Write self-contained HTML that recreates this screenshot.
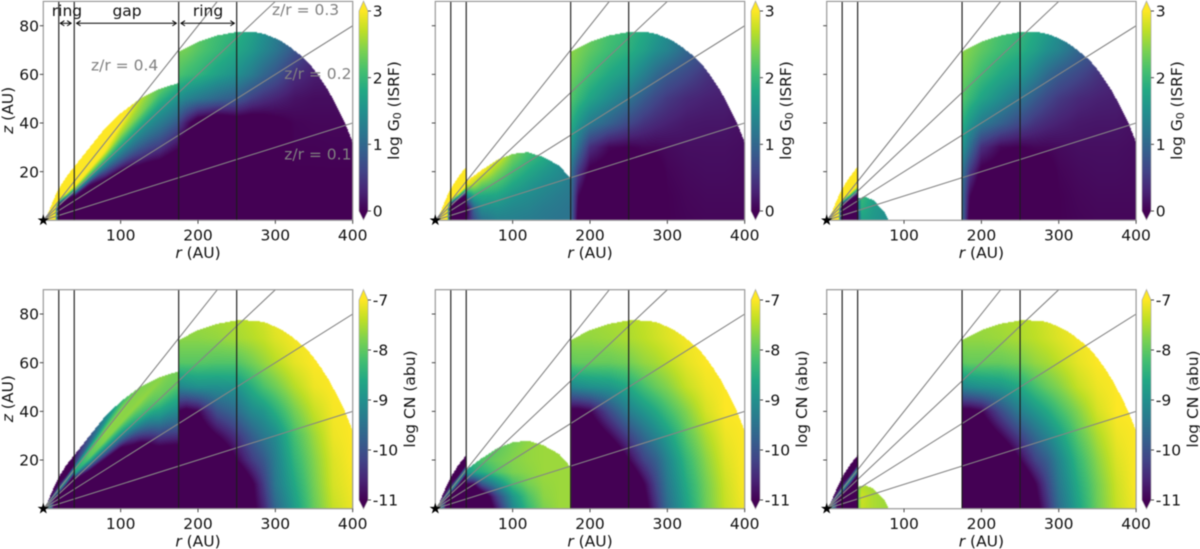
<!DOCTYPE html>
<html lang="en">
<head>
<meta charset="utf-8">
<title>Disk G0 and CN maps</title>
<style>
html,body{margin:0;padding:0;background:#fff;width:1200px;height:549px;overflow:hidden}
#figure{position:relative;width:1200px;height:549px;background:#fff;filter:blur(0.4px)}
canvas{position:absolute;display:block}
svg{position:absolute;left:0;top:0}
text{font-family:"DejaVu Sans","Liberation Sans",sans-serif;font-size:15.5px;fill:#111}
</style>
</head>
<body>
<div id="figure">
<svg id="overlay" width="1200" height="549" viewBox="0 0 1200 549">
<defs>
<linearGradient id="viridis" x1="0" y1="1" x2="0" y2="0">
<stop offset="0" stop-color="#440154"/><stop offset="0.1" stop-color="#482475"/><stop offset="0.2" stop-color="#414487"/><stop offset="0.3" stop-color="#355f8d"/><stop offset="0.4" stop-color="#2a788e"/><stop offset="0.5" stop-color="#21908d"/><stop offset="0.6" stop-color="#22a884"/><stop offset="0.7" stop-color="#44bf70"/><stop offset="0.8" stop-color="#7ad151"/><stop offset="0.9" stop-color="#bddf26"/><stop offset="1" stop-color="#fde725"/>
</linearGradient>
</defs>
</svg>
</div>
<script>
// ---------- axis data ----------
const xTicks = [100, 200, 300, 400];
const yTicks = [20, 40, 60, 80];
const g0Ticks = [0, 1, 2, 3];
const cnTicks = [-11, -10, -9, -8, -7];
const ringRadii = [20, 40, 175, 250];
const zrSlopes = [0.1, 0.2, 0.3, 0.4];
const annotationLabels = ["z/r = 0.4", "z/r = 0.3", "z/r = 0.2", "z/r = 0.1"];
const annotationR = [61.7, 295.6, 311.5, 311.5];
const annotationZ = [61.6, 84.4, 58.1, 25];
const zoneLabels = ["ring", "gap", "ring"];
const zoneLabelR = [30.6, 108.3, 213];
const zoneArrowFrom = [22, 43, 178];
const zoneArrowTo = [36, 172, 247];

// ---------- disk surface heights (AU) ----------
const ringTopR = [0, 5, 10, 15, 20, 30, 40];
const ringTopZ = [0, 2, 6, 9.7, 13, 18, 22];
const outerTopR = [175, 200, 225, 250, 275, 287, 300, 310, 320, 330, 340, 350, 360, 370, 380, 390, 395, 400];
const outerTopZ = [69.3, 73.4, 76, 77.4, 77.3, 76.5, 74.8, 73.2, 71, 68.5, 65.8, 62, 57.5, 52.5, 46.5, 40, 36, 32];
const gapTopRFull = [40, 50, 60, 80, 100, 125, 150, 175];
const gapTopZFull = [22, 26, 30, 38, 44, 50, 54, 56.5];
const gapTopRMid = [40, 60, 80, 100, 120, 140, 160, 170, 175];
const gapTopZMid = [16, 20.7, 24.8, 27.3, 28, 26, 22.5, 19, 17];
const gapTopRSmall = [40, 50, 60, 70, 75, 80];
const gapTopZSmall = [9, 9.6, 8.4, 5, 3.5, 0];

// ---------- sampled grids ----------
const ringR = [0, 10, 15, 20, 30, 40];
const ringSlopeG0 = [0, 0.25, 0.3, 0.35, 0.4, 0.45, 0.7];
const ringG0 = [
 [4,4,3.5,-1,-1,-1],
 [4,4,3.5,-1,-1,-0.5],
 [4,4,3.5,-0.5,0.8,1.5],
 [4,4,3.5,1,2.6,3],
 [4,4,3.5,3,3.5,3.5],
 [4,4,4,4,4,4],
 [4,4,4,4,4,4]
];
const ringSlopeCN = [0, 0.1, 0.2, 0.3, 0.35, 0.4, 0.45, 0.7];
const ringCN = [
 [-9,-9.5,-12,-12,-12,-12],
 [-9,-9.5,-11.5,-12,-12,-12],
 [-9,-10,-11,-12,-12,-12],
 [-9.5,-10.5,-11,-11.5,-12,-12],
 [-9.5,-10,-10,-9.5,-10,-11],
 [-9,-9,-8.8,-8.5,-8.5,-8.6],
 [-10.5,-10.5,-10.5,-10.5,-11,-11],
 [-12,-12,-12,-12,-12,-12]
];

const outerR = [175,185,200,225,250,270,285,300,325,350,375,400];
const outerZ = [0,10,20,30,40,50,60,70,80];
const outerG0Full = [
 [0,0,0,0,0,0,0,0,0,0,0,0],
 [0,0,0,0,0,0,0,0,0,0,0,0],
 [-0.1,-0.1,-0.1,-0.2,-0.2,-0.2,-0.2,-0.1,0,0,0,0],
 [-0.3,-0.3,-0.3,-0.3,-0.3,-0.2,-0.2,-0.1,0.02,0.02,0.03,0.03],
 [0.6,0.2,-0.3,-0.5,-0.3,-0.3,-0.2,-0.1,0.03,0.05,0.05,0.05],
 [1.5,1.35,1.2,1.0,0.85,0.55,0.4,0.3,0.15,0.1,0.1,0.1],
 [2.15,2.05,1.95,1.7,1.5,1.25,1.0,0.8,0.4,0.25,0.2,0.2],
 [2.4,2.35,2.2,2.0,1.8,1.6,1.4,1.2,0.8,0.4,0.3,0.3],
 [2.5,2.45,2.3,2.1,1.95,1.75,1.55,1.35,0.9,0.5,0.4,0.3]
];
const outerG0Cut = [
 [1.1,-0.2,-0.5,-0.5,-0.5,-0.5,-0.3,0,0.03,0.05,0.05,0.05],
 [1.1,0.05,-0.4,-0.4,-0.4,-0.4,-0.2,0,0.05,0.07,0.07,0.07],
 [1.2,0.5,-0.1,-0.2,-0.3,-0.2,-0.1,0.03,0.08,0.1,0.1,0.08],
 [1.6,1.1,0.4,0.05,0,0.05,0.05,0.08,0.12,0.12,0.12,0.1],
 [1.9,1.6,1.25,0.95,0.65,0.45,0.35,0.28,0.2,0.18,0.18,0.12],
 [2.2,2,1.75,1.45,1.15,0.85,0.65,0.5,0.35,0.28,0.25,0.15],
 [2.35,2.25,2.05,1.8,1.6,1.3,1.05,0.85,0.65,0.45,0.3,0.2],
 [2.5,2.4,2.25,2.05,1.9,1.7,1.5,1.35,1,0.7,0.4,0.3],
 [2.6,2.5,2.35,2.15,2,1.85,1.7,1.5,1.15,0.8,0.5,0.3]
];
const outerCNFull = [
 [-12,-12,-12,-12,-12,-11.2,-10.6,-9.7,-8.8,-7.95,-7.35,-7.1],
 [-12,-12,-12,-12,-12,-11.1,-10.3,-9.4,-8.6,-7.85,-7.25,-7.05],
 [-12,-12,-12,-12,-11,-10.3,-9.9,-9.3,-8.4,-7.75,-7.2,-7],
 [-12,-12,-11.6,-11,-10.4,-9.8,-9.4,-9.1,-8.2,-7.6,-7.1,-7],
 [-11,-11.2,-11,-10,-9.6,-9.1,-8.9,-8.5,-7.85,-7.35,-7.05,-7],
 [-9.2,-9.1,-9,-9,-8.95,-8.5,-8.15,-7.9,-7.45,-7.1,-7,-7],
 [-8.05,-8.05,-8.05,-8.1,-8.1,-7.85,-7.65,-7.45,-7.15,-7,-7,-7],
 [-7.7,-7.7,-7.7,-7.65,-7.55,-7.45,-7.35,-7.2,-7.05,-7,-7,-7],
 [-7.55,-7.55,-7.55,-7.5,-7.45,-7.35,-7.25,-7.1,-7.05,-7,-7,-7]
];
const outerCNCut = [
 [-12,-12,-12,-12,-12,-11.3,-10.5,-9.6,-8.7,-7.9,-7.35,-7.05],
 [-12,-12,-12,-12,-12,-11,-10.2,-9.4,-8.55,-7.85,-7.3,-7],
 [-12,-12,-12,-12,-11,-10.2,-9.8,-9.2,-8.35,-7.7,-7.2,-7],
 [-12,-12,-11.7,-11,-10.2,-9.6,-9.2,-8.8,-8.05,-7.5,-7.1,-7],
 [-11.2,-11.2,-11,-10.1,-9.3,-8.9,-8.6,-8.25,-7.75,-7.25,-7,-7],
 [-9.2,-9.1,-9,-8.9,-8.6,-8.2,-7.95,-7.75,-7.35,-7.1,-7,-7],
 [-8,-7.95,-7.95,-7.95,-7.85,-7.65,-7.55,-7.4,-7.15,-7,-7,-7],
 [-7.65,-7.65,-7.65,-7.6,-7.5,-7.4,-7.3,-7.2,-7.05,-7,-7,-7],
 [-7.55,-7.55,-7.55,-7.5,-7.45,-7.35,-7.25,-7.15,-7.05,-7,-7,-7]
];

const gapFullR = [40,60,80,100,125,150,175];
const gapG0Slope = [0,0.15,0.2,0.25,0.3,0.35,0.4,0.7];
const gapG0Full = [
 [-1,-1,-1,-1,-1,-1,-1],
 [-1,-1,-1,-0.5,-0.5,-0.2,-0.2],
 [-0.5,-0.5,-0.2,-0.1,0.3,0.5,0.4],
 [0.2,0.2,0.7,0.9,1.0,1.1,1.1],
 [2.0,1.9,1.8,1.7,1.6,1.6,1.7],
 [3.2,3,2.9,2.5,2.4,2.2,2.3],
 [3.5,3.5,3.3,3.1,2.7,2.5,2.5],
 [3.5,3.5,3.5,3.2,2.9,2.6,2.5]
];
const gapCNSlope = [0,0.15,0.2,0.25,0.3,0.35,0.4,0.45,0.7];
const gapCNFull = [
 [-12,-12,-12,-12,-12,-12,-12],
 [-12,-12,-12,-12,-12,-11.5,-11],
 [-12,-12,-12,-12,-11.5,-10.3,-9.7],
 [-12,-11.5,-11.2,-11,-10,-9,-8.7],
 [-11,-9.5,-9.2,-9,-8.4,-8,-7.9],
 [-8.8,-8,-7.75,-7.7,-7.65,-7.7,-7.8],
 [-8.5,-8,-7.7,-7.7,-7.8,-7.9,-8],
 [-10.2,-9.6,-9,-8.6,-8.5,-8.5,-8.5],
 [-12,-12,-11,-9.5,-9,-9,-9]
];

const gapMidR = [40,50,60,80,100,120,140,160,175];
const gapMidZ = [0,5,10,15,20,25,30];
const gapG0Mid = [
 [0.1,0.7,1.1,1.3,1.3,1.25,1.2,1.15,1.15],
 [-0.2,1,1.45,1.5,1.4,1.35,1.25,1.2,1.15],
 [1.2,1.8,1.8,1.75,1.55,1.45,1.35,1.25,1.2],
 [3,2.7,2.35,2.1,1.8,1.6,1.45,1.35,1.25],
 [3.2,3.2,3,2.45,2.05,1.8,1.6,1.45,1.3],
 [3.2,3.2,3.1,2.85,2.3,2,1.8,1.5,1.3],
 [3.2,3.2,3.2,3,2.5,2.15,1.9,1.5,1.3]
];
const gapCNMid = [
 [-12,-12,-12,-10.7,-9.2,-8.35,-7.8,-7.6,-7.6],
 [-12,-12,-11.8,-10.2,-8.9,-8.15,-7.7,-7.6,-7.6],
 [-11,-11,-10,-9.1,-8.25,-7.85,-7.65,-7.6,-7.6],
 [-9,-8.6,-8.5,-8.1,-7.8,-7.7,-7.6,-7.6,-7.6],
 [-8.6,-8.3,-8.1,-7.9,-7.75,-7.65,-7.6,-7.6,-7.6],
 [-8.8,-8.6,-8.3,-8,-7.8,-7.65,-7.6,-7.6,-7.6],
 [-9,-9,-8.6,-8.2,-7.9,-7.7,-7.6,-7.6,-7.6]
];

const gapSmallR = [40,45,60,80];
const gapSmallZ = [0,5,10];
const gapG0Small = [
 [0.3,1.7,1.6,1.45],
 [0.8,1.9,1.65,1.5],
 [1.2,2,1.75,1.6]
];
const gapCNSmall = [
 [-8,-7.35,-7.5,-7.6],
 [-8,-7.3,-7.5,-7.6],
 [-8.1,-7.5,-7.6,-7.7]
];

// ---------- colormap ----------
const viridisStops = ["#440154","#482475","#414487","#355f8d","#2a788e","#21908d","#22a884","#44bf70","#7ad151","#bddf26","#fde725"];

// ---------- panel layout ----------
const plotLeft = [43.3, 435.3, 826.7];
const plotTop = [1.4, 289.7];
const plotBottom = [220.3, 508.7];
const plotWidth = 309.4;
const barLeft = [359, 751, 1142];
const barWidth = 9;
const barTopTick = [11, 300];
const barBottomTick = [211, 500];
const barTip = [[1, 220], [289.5, 509]];

const panels = [
 {col:0,row:0,name:'g0-full-gap',ring:[ringR,ringSlopeG0,ringG0],gap:[gapFullR,gapG0Slope,gapG0Full,true],gapTop:[gapTopRFull,gapTopZFull],outer:outerG0Full},
 {col:1,row:0,name:'g0-mid-gap',ring:[ringR,ringSlopeG0,ringG0],gap:[gapMidR,gapMidZ,gapG0Mid,false],gapTop:[gapTopRMid,gapTopZMid],outer:outerG0Cut},
 {col:2,row:0,name:'g0-small-gap',ring:[ringR,ringSlopeG0,ringG0],gap:[gapSmallR,gapSmallZ,gapG0Small,false],gapTop:[gapTopRSmall,gapTopZSmall],outer:outerG0Cut},
 {col:0,row:1,name:'cn-full-gap',ring:[ringR,ringSlopeCN,ringCN],gap:[gapFullR,gapCNSlope,gapCNFull,true],gapTop:[gapTopRFull,gapTopZFull],outer:outerCNFull},
 {col:1,row:1,name:'cn-mid-gap',ring:[ringR,ringSlopeCN,ringCN],gap:[gapMidR,gapMidZ,gapCNMid,false],gapTop:[gapTopRMid,gapTopZMid],outer:outerCNCut},
 {col:2,row:1,name:'cn-small-gap',ring:[ringR,ringSlopeCN,ringCN],gap:[gapSmallR,gapSmallZ,gapCNSmall,false],gapTop:[gapTopRSmall,gapTopZSmall],outer:outerCNCut}
];

// ---------- helpers ----------
const SVGNS = 'http://www.w3.org/2000/svg';
const overlay = document.getElementById('overlay');
const figure = document.getElementById('figure');

function node(tag, attrs, name, parent) {
  const e = document.createElementNS(SVGNS, tag);
  for (const k in attrs) e.setAttribute(k, attrs[k]);
  
  
  (parent || overlay).appendChild(e);
  return e;
}
function rgbStops() {
  return viridisStops.map(h => [parseInt(h.slice(1,3),16), parseInt(h.slice(3,5),16), parseInt(h.slice(5,7),16)]);
}
const cmap = rgbStops();
function colour(t) {
  t = Math.max(0, Math.min(1, t)) * (cmap.length - 1);
  const i = Math.min(cmap.length - 2, Math.floor(t)), f = t - i;
  return [0,1,2].map(c => cmap[i][c] + (cmap[i+1][c] - cmap[i][c]) * f);
}
function lerp1(xs, ys, x) {
  if (x < xs[0] || x > xs[xs.length-1]) return -1;
  for (let i = 0; i < xs.length - 1; i++) {
    if (x <= xs[i+1]) return ys[i] + (ys[i+1]-ys[i]) * (x-xs[i]) / (xs[i+1]-xs[i]);
  }
  return ys[ys.length-1];
}
function locate(xs, x) {
  if (x <= xs[0]) return [0, 0];
  if (x >= xs[xs.length-1]) return [xs.length-2, 1];
  for (let i = 0; i < xs.length - 1; i++) {
    if (x <= xs[i+1]) return [i, (x-xs[i]) / (xs[i+1]-xs[i])];
  }
  return [xs.length-2, 1];
}
function bilinear(cols, rows, vals, c, r) {
  const [i, fi] = locate(cols, c), [j, fj] = locate(rows, r);
  const a = vals[j][i] + (vals[j][i+1]-vals[j][i]) * fi;
  const b = vals[j+1][i] + (vals[j+1][i+1]-vals[j+1][i]) * fi;
  return a + (b-a) * fj;
}
function xScale(col, r) { return plotLeft[col] + r * plotWidth / 400; }
function yScale(row, z) { return plotBottom[row] - z * (plotBottom[row]-plotTop[row]) / 90; }

function sampleField(p, r, z) {
  const s = z / Math.max(r, 0.5);
  if (r < 40) {
    if (z > lerp1(ringTopR, ringTopZ, r)) return null;
    return bilinear(p.ring[0], p.ring[1], p.ring[2], r, s);
  }
  if (r < 175) {
    if (z > lerp1(p.gapTop[0], p.gapTop[1], r)) return null;
    return bilinear(p.gap[0], p.gap[1], p.gap[2], r, p.gap[3] ? s : z);
  }
  if (r <= 400) {
    if (z > lerp1(outerTopR, outerTopZ, r)) return null;
    return bilinear(outerR, outerZ, p.outer, r, z);
  }
  return null;
}

// ---------- draw panels ----------
panels.forEach(p => {
  const L = Math.floor(plotLeft[p.col]), T = Math.floor(plotTop[p.row]);
  const W = Math.ceil(plotWidth) + 1, H = Math.ceil(plotBottom[p.row] - plotTop[p.row]) + 1;
  const cv = document.createElement('canvas');
  cv.width = W; cv.height = H;
  cv.style.left = L + 'px'; cv.style.top = T + 'px';
  
  
  figure.insertBefore(cv, overlay);
  const ctx = cv.getContext('2d');
  const im = ctx.createImageData(W, H);
  const isCN = p.row === 1;
  for (let py = 0; py < H; py++) {
    for (let px = 0; px < W; px++) {
      const r = (L + px + 0.5 - plotLeft[p.col]) * 400 / plotWidth;
      const z = (plotBottom[p.row] - (T + py + 0.5)) * 90 / (plotBottom[p.row]-plotTop[p.row]);
      if (r < 0 || z < 0) continue;
      const v = sampleField(p, r, z);
      if (v === null) continue;
      const t = isCN ? (v + 11) / 4 : v / 3;
      const c = colour(t), o = (py * W + px) * 4;
      im.data[o] = c[0]; im.data[o+1] = c[1]; im.data[o+2] = c[2]; im.data[o+3] = 255;
    }
  }
  ctx.putImageData(im, 0, 0);

  const g = node('g', {}, 'panel-' + p.name);
  const x0 = xScale(p.col, 0), x1 = xScale(p.col, 400), y0 = yScale(p.row, 0), y1 = yScale(p.row, 90);

  // rays of constant z/r
  zrSlopes.forEach(s => {
    const rEnd = Math.min(400, 90 / s);
    node('line', {x1:x0, y1:y0, x2:xScale(p.col, rEnd), y2:yScale(p.row, rEnd*s), stroke:'#858585', 'stroke-width':1.1}, 'zr-line-' + s, g);
  });
  // ring and gap edges
  ringRadii.forEach(r => {
    node('line', {x1:xScale(p.col,r), y1:y0, x2:xScale(p.col,r), y2:y1, stroke:'#1c1c1c', 'stroke-width':1.15}, 'ring-edge-' + r, g);
  });
  // frame
  node('rect', {x:x0, y:y1, width:x1-x0, height:y0-y1, fill:'none', stroke:'#999', 'stroke-width':1.2}, 'plot-frame', g);
  // x ticks
  xTicks.forEach(t => {
    node('line', {x1:xScale(p.col,t), y1:y0, x2:xScale(p.col,t), y2:y0+3.5, stroke:'#333', 'stroke-width':0.9}, 'x-tick-' + t, g);
    const lb = node('text', {x:xScale(p.col,t), y:y0+20.4, 'text-anchor':'middle'}, 'x-tick-label-' + t, g);
    lb.textContent = t;
  });
  // y ticks
  yTicks.forEach(t => {
    node('line', {x1:x0-3.5, y1:yScale(p.row,t), x2:x0, y2:yScale(p.row,t), stroke:'#333', 'stroke-width':0.9}, 'y-tick-' + t, g);
    if (p.col === 0) {
      const lb = node('text', {x:x0-4.3, y:yScale(p.row,t)+5.6, 'text-anchor':'end'}, 'y-tick-label-' + t, g);
      lb.textContent = t;
    }
  });
  // axis titles
  const xt = node('text', {x:(x0+x1)/2, y:y0+37.8, 'text-anchor':'middle'}, 'x-axis-title', g);
  const xi = node('tspan', {'font-style':'italic'}, 'x-axis-title-symbol', xt);
  xi.textContent = 'r';
  xt.appendChild(document.createTextNode(' (AU)'));
  if (p.col === 0) {
    const yCentre = (y0 + y1) / 2 - 0.5;
    const yt = node('text', {x:0, y:0, 'text-anchor':'middle', transform:'translate(13 ' + yCentre + ') rotate(-90)'}, 'y-axis-title', g);
    const yi = node('tspan', {'font-style':'italic'}, 'y-axis-title-symbol', yt);
    yi.textContent = 'z';
    yt.appendChild(document.createTextNode(' (AU)'));
  }
  // star
  const pts = [];
  for (let i = 0; i < 10; i++) {
    const a = -Math.PI/2 + i * Math.PI/5, rad = i % 2 ? 2.3 : 6;
    pts.push((x0 + rad*Math.cos(a)).toFixed(2) + ',' + (y0 + rad*Math.sin(a)).toFixed(2));
  }
  node('polygon', {points:pts.join(' '), fill:'#000'}, 'central-star', g);

  // colorbar
  const bl = barLeft[p.col], br = bl + barWidth, bt = barTopTick[p.row], bb = barBottomTick[p.row];
  const tip = barTip[p.row];
  node('polygon', {points:[bl,bt,(bl+br)/2,tip[0],br,bt].join(' '), fill:'#fde725'}, 'colorbar-max-arrow', g);
  node('polygon', {points:[bl,bb,(bl+br)/2,tip[1],br,bb].join(' '), fill:'#440154'}, 'colorbar-min-arrow', g);
  node('rect', {x:bl, y:bt, width:barWidth, height:bb-bt, fill:'url(#viridis)'}, 'colorbar-gradient', g);
  node('polygon', {points:[bl,bt,(bl+br)/2,tip[0],br,bt,br,bb,(bl+br)/2,tip[1],bl,bb].join(' '), fill:'none', stroke:'#aaa', 'stroke-width':0.7}, 'colorbar-outline', g);
  const ticks = isCN ? cnTicks : g0Ticks;
  const vMin = ticks[0], vMax = ticks[ticks.length-1];
  ticks.forEach(t => {
    const ty = bb - (t - vMin) * (bb - bt) / (vMax - vMin);
    node('line', {x1:br, y1:ty, x2:br+3, y2:ty, stroke:'#333', 'stroke-width':0.9}, 'colorbar-tick-' + t, g);
    const lb = node('text', {x:br+4.8, y:ty+5.6}, 'colorbar-tick-label-' + t, g);
    lb.textContent = t;
  });
  const cbx = bl + (isCN ? 56 : 40);
  const cby = isCN ? 399 : 110.5;
  const cbt = node('text', {x:0, y:0, 'text-anchor':'middle', transform:'translate(' + cbx + ' ' + cby + ') rotate(-90)'}, 'colorbar-title', g);
  if (isCN) {
    cbt.textContent = 'log CN (abu)';
  } else {
    cbt.appendChild(document.createTextNode('log G'));
    const sub = node('tspan', {dy:2.2, 'font-size':'11px'}, 'colorbar-title-subscript', cbt);
    sub.textContent = '0';
    const rest = node('tspan', {dy:-2.2}, 'colorbar-title-unit', cbt);
    rest.textContent = ' (ISRF)';
  }

  // annotations on the first panel only
  if (p.col === 0 && p.row === 0) {
    annotationLabels.forEach((t, i) => {
      const lb = node('text', {x:xScale(0,annotationR[i]), y:yScale(0,annotationZ[i]), style:'fill:#808080'}, 'zr-annotation-' + i, g);
      lb.textContent = t;
    });
    zoneLabels.forEach((t, i) => {
      const lb = node('text', {x:xScale(0,zoneLabelR[i]), y:yScale(0,84), 'text-anchor':'middle'}, 'zone-label-' + t + '-' + i, g);
      lb.textContent = t;
    });
    zoneArrowFrom.forEach((from, i) => {
      const a = xScale(0,from), b = xScale(0,zoneArrowTo[i]), ay = yScale(0,81);
      node('line', {x1:a, y1:ay, x2:b, y2:ay, stroke:'#000', 'stroke-width':1}, 'zone-arrow-shaft-' + i, g);
      node('polyline', {points:[a+4,ay-2.6,a,ay,a+4,ay+2.6].join(' '), fill:'none', stroke:'#000', 'stroke-width':1}, 'zone-arrow-left-' + i, g);
      node('polyline', {points:[b-4,ay-2.6,b,ay,b-4,ay+2.6].join(' '), fill:'none', stroke:'#000', 'stroke-width':1}, 'zone-arrow-right-' + i, g);
    });
  }
});
</script>
</body>
</html>
